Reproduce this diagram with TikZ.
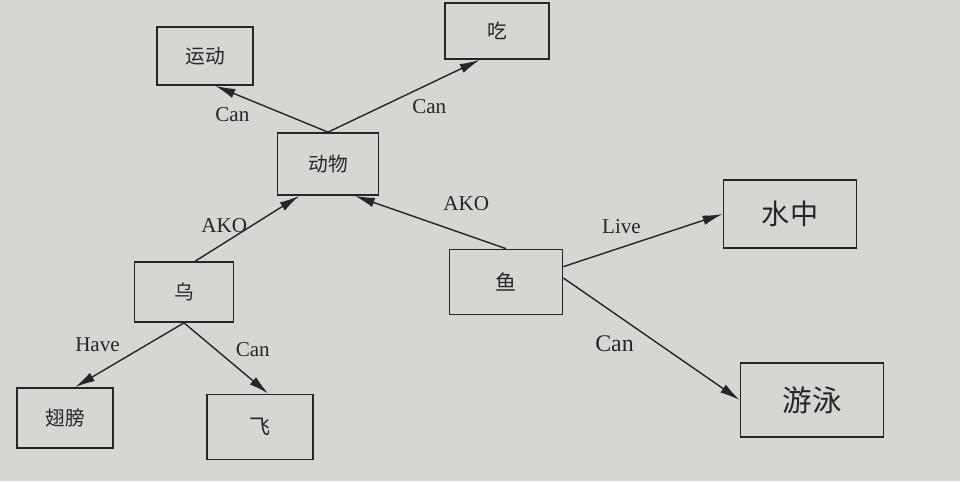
\documentclass[tikz,border=0pt]{standalone}
\usepackage{fontspec}
\setmainfont{Liberation Serif}
\newfontfamily\cjk{Noto Sans CJK SC}
\usetikzlibrary{arrows.meta}
\definecolor{paper}{RGB}{214,214,211}
\definecolor{ink}{RGB}{38,38,38}
\tikzset{
  box/.style={draw=ink, line width=1.2pt, inner sep=0pt, font=\cjk\fontsize{14}{16}\selectfont, text=ink},
  bigbox/.style={box, font=\cjk\fontsize{20}{22}\selectfont},
  rel/.style={-{Latex[length=5mm,width=2.4mm]}, ink, line width=1pt},
  lbl/.style={font=\fontsize{15}{17}\selectfont, text=ink},
}

\begin{document}
\begin{tikzpicture}[x=0.025cm, y=-0.025cm]
  \fill[paper] (0,0) rectangle (960,481);
  % concepts
  \node[box, minimum width=2.4cm,   minimum height=1.45cm]  (yd) at (205,56)  {运动};
  \node[box, minimum width=2.6cm,   minimum height=1.4cm]   (ch) at (497,31)  {吃};
  \node[box, minimum width=2.525cm, minimum height=1.55cm]  (dw) at (328,164) {动物};
  \node[box, minimum width=2.475cm, minimum height=1.5cm]   (bd) at (184,292) {乌};
  \node[box, minimum width=2.825cm, minimum height=1.625cm, font=\cjk\fontsize{15}{17}\selectfont] (yu) at (506,282) {鱼};
  \node[bigbox, minimum width=3.325cm, minimum height=1.7cm] (sz) at (790,214) {水中};
  \node[bigbox, minimum width=3.575cm, minimum height=1.85cm, font=\cjk\fontsize{21}{23}\selectfont] (yy) at (812,400) {游泳};
  \node[box, minimum width=2.4cm,   minimum height=1.5cm]   (cb) at (65,418)  {翅膀};
  \node[box, minimum width=2.65cm,  minimum height=1.625cm, font=\cjk\fontsize{15}{17}\selectfont] (fe) at (260,427) {飞};
  % relations
  \draw[rel] (dw.north) -- (yd.289) node[lbl, pos=0.65, anchor=north east] {Can};
  \draw[rel] (dw.north) -- (ch.239) node[lbl, pos=0.52, anchor=north west] {Can};
  \draw[rel] (bd.70)    -- (dw.228) node[lbl, pos=0.55, anchor=east] {AKO};
  \draw[rel] (yu.north) -- (dw.310) node[lbl, pos=0.45, anchor=south west, yshift=6pt] {AKO};
  \draw[rel] (yu.15)    -- (sz.west) node[lbl, pos=0.52, anchor=south east] {Live};
  \draw[rel] (yu.4)     -- (yy.west) node[lbl, pos=0.43, anchor=north east, font=\fontsize{17}{19}\selectfont] {Can};
  \draw[rel] (bd.south) -- (cb.72)  node[lbl, pos=0.54, anchor=south east] {Have};
  \draw[rel] (bd.south) -- (fe.76)  node[lbl, pos=0.55, anchor=south west] {Can};
\end{tikzpicture}
\end{document}
